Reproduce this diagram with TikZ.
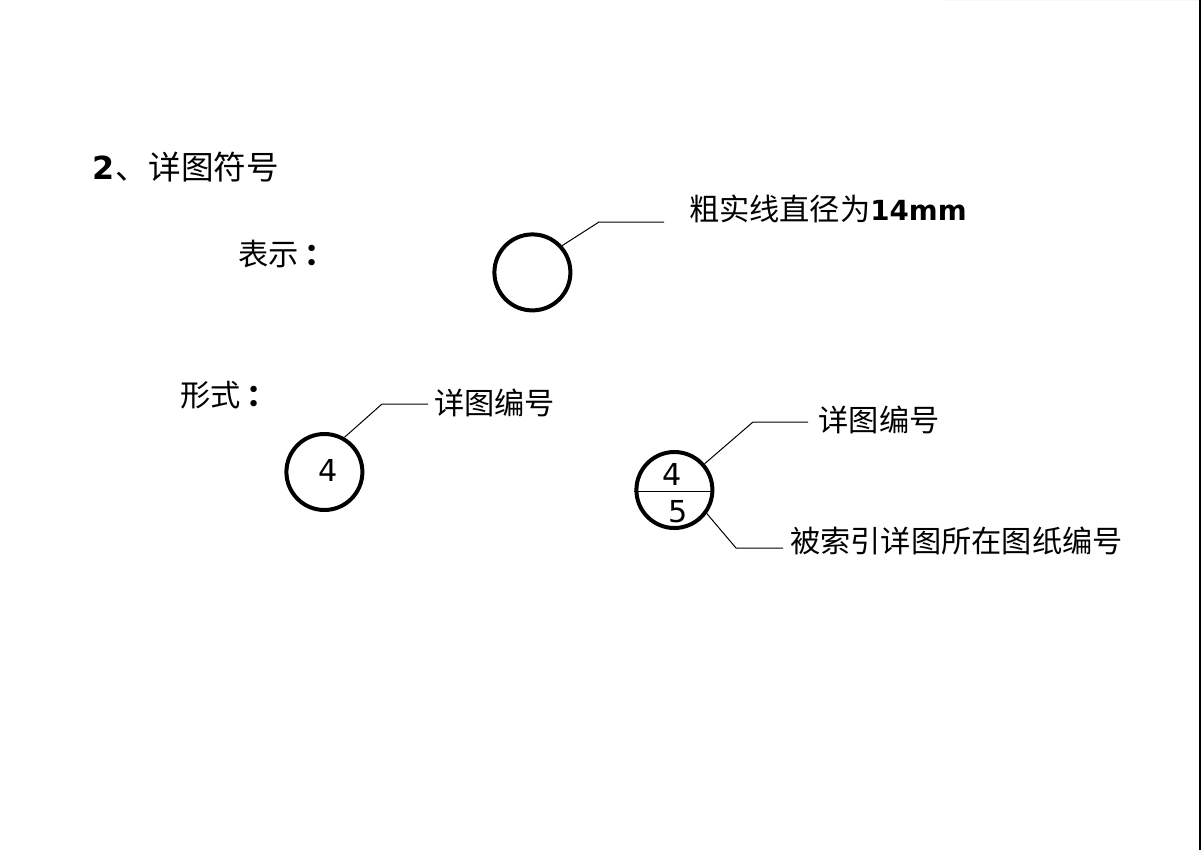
\documentclass[tikz,border=0pt]{standalone}
\usepackage{fontspec}
\setmainfont{DejaVu Sans}
\newfontfamily\cjk{Noto Sans CJK SC}
\usetikzlibrary{positioning}
\usetikzlibrary{calc}
\newcommand{\capsize}{\fontsize{21.5}{24}\selectfont}
\newcommand{\headsize}{\fontsize{23.2}{26}\selectfont}
\newcommand{\colonmark}{\hspace{0.15cm}{\bfseries ：}}
\begin{document}
\begin{tikzpicture}
\tikzstyle{ring}=[draw,circle,line width=0.1cm,minimum size=1.9cm,inner sep=0pt]
\tikzstyle{leader}=[line width=0.025cm,line join=miter]
\tikzstyle{captext}=[anchor=west,inner sep=0pt,font=\cjk\capsize]
\tikzstyle{digit}=[inner sep=0pt,font=\capsize]
\useasboundingbox (0,0) rectangle (30.025,-21.25);
\fill[black!3] (23.6,0) rectangle (30.025,-0.03);
\fill[black] (29.975,0) rectangle (30.025,-21.25);
% heading
\node[captext,font=\headsize] (head0) at (2.3,-4.17) {{\fontsize{22.6}{26}\selectfont\bfseries 2}{\cjk \hspace{0.04cm}、详图符号}};
% first row
\node[captext] (show0) at (5.95,-6.35) {表示\colonmark};
\node[ring] (ringa) at (13.31,-6.81) {};
\node[captext] (capa) at (17.22,-5.22) {粗实线直径为{\fontspec{DejaVu Sans}\fontsize{19.7}{24}\selectfont\bfseries 14mm}};
\coordinate (elba) at (14.975,-5.55);
\coordinate (enda) at (16.6,-5.55);
\draw[leader] (ringa.42) -- (elba) -- (enda);
% second row, left
\node[captext] (form0) at (4.5,-9.87) {形式\colonmark};
\node[ring] (ringb) at (8.11,-11.8) {};
\node[digit] (numb) at (8.2,-11.75) {4};
\node[captext] (capb) at (10.85,-10.08) {详图编号};
\coordinate (elbb) at (9.55,-10.1);
\coordinate (endb) at (10.7,-10.1);
\draw[leader] (ringb.60) -- (elbb) -- (endb);
% second row, right
\node[ring] (ringc) at (16.86,-12.25) {};
\node[digit] (numc) at (16.8,-11.87) {4};
\node[digit] (numd) at (16.95,-12.8) {5};
\draw[leader] ($(ringc.west)+(0,-0.025)$) -- ($(ringc.east)+(0,-0.025)$);
\node[captext] (capc) at (20.46,-10.5) {详图编号};
\node[captext] (capd) at (19.75,-13.52) {被索引详图所在图纸编号};
\coordinate (elbc) at (18.825,-10.55);
\coordinate (endc) at (20.2,-10.55);
\coordinate (elbd) at (18.4,-13.7);
\coordinate (endd) at (19.575,-13.7);
\draw[leader] (ringc.41) -- (elbc) -- (endc);
\draw[leader] (ringc.-36) -- (elbd) -- (endd);
\end{tikzpicture}
\end{document}
